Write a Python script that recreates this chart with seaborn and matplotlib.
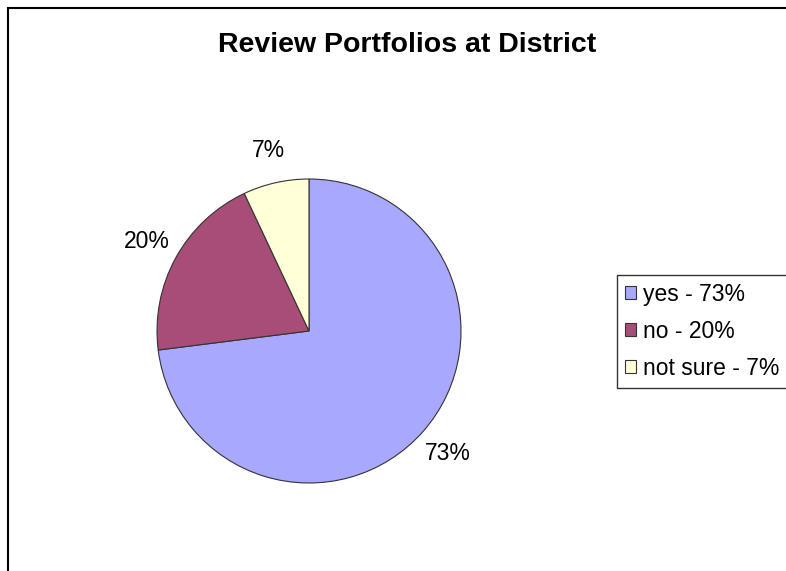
import matplotlib.pyplot as plt
import seaborn as sns
from matplotlib.patches import Rectangle

sns.set_theme(style="white")
plt.rcParams["font.family"] = ["Liberation Sans", "DejaVu Sans"]
plt.rcParams["text.color"] = "black"

categories = ["yes", "no", "not sure"]
values = [73, 20, 7]
colors = ["#A8A8FF", "#A84C78", "#FFFFD8"]
legend_labels = ["yes - 73%", "no - 20%", "not sure - 7%"]

W, H = 786, 571
fig = plt.figure(figsize=(W / 100, H / 100), dpi=100)

# chart frame (runs off the right and bottom edges)
fig.patches.append(Rectangle((8 / W, -0.1), 1.2, 1 - 8 / H + 0.1,
                             transform=fig.transFigure, fill=False,
                             edgecolor="black", linewidth=1.5))

cx, cy, r = 309, 571 - 331, 152
half = 210
ax = fig.add_axes([(cx - half) / W, (cy - half) / H, 2 * half / W, 2 * half / H])

wedges, _, autotexts = ax.pie(
    values, colors=colors, startangle=90, counterclock=False,
    autopct="%.0f%%", pctdistance=1.22,
    wedgeprops={"edgecolor": "#333333", "linewidth": 0.8},
    textprops={"fontsize": 16.5, "color": "black"},
)
lim = half / r
ax.set_xlim(-lim, lim)
ax.set_ylim(-lim, lim)
ax.set_aspect("equal")
ax.axis("off")

fig.text(407 / W, 1 - 45 / H, "Review Portfolios at District",
         ha="center", va="center", fontsize=20.5, fontweight="bold",
         color="black")

leg = fig.legend(wedges, legend_labels, loc="upper left",
                 bbox_to_anchor=(617 / W, 1 - 275 / H), fontsize=16.5,
                 frameon=True, fancybox=False, edgecolor="black",
                 handlelength=0.5, handleheight=0.5, handletextpad=0.3,
                 labelspacing=0.6, borderpad=0.35, borderaxespad=0)
leg.get_frame().set_linewidth(1.0)
for t in leg.get_texts():
    t.set_color("black")

fig.savefig("out.png", dpi=100)
